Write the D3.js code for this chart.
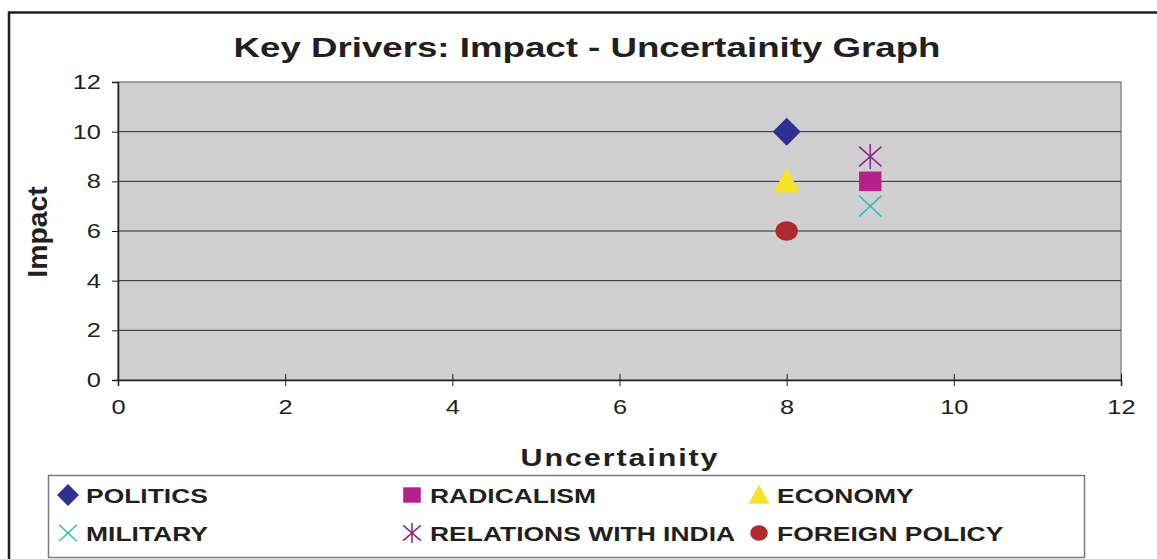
<!DOCTYPE html>
<html>
<head>
<meta charset="utf-8">
<script src="https://cdn.jsdelivr.net/npm/d3@7"></script>
<style>
  body { margin: 0; background: #fff; }
  text { font-family: "Liberation Sans", Arial, sans-serif; fill: #231f20; }
</style>
</head>
<body>
<svg id="chart" width="1157" height="559"></svg>
<script>
const seriesNames = ["POLITICS", "RADICALISM", "ECONOMY", "MILITARY", "RELATIONS WITH INDIA", "FOREIGN POLICY"];
const uncertainty = [8, 9, 8, 9, 9, 8];
const impact = [10, 8, 8, 7, 9, 6];
const colors = ["#2e3192", "#b5218c", "#f7e325", "#33bfbf", "#92278f", "#ad2a2e"];
const shapes = ["diamond", "square", "triangle", "cross", "star", "circle"];
const ticks = [0, 2, 4, 6, 8, 10, 12];

const svg = d3.select("#chart");
const sx = 1.27; // the original glyphs are wide

// outer chart frame (runs off right/bottom edge)
svg.append("path")
  .attr("d", "M9,1000 V12.5 H1200")
  .attr("fill", "none").attr("stroke", "#231f20").attr("stroke-width", 2.5);

const x = d3.scaleLinear().domain([0, 12]).range([118, 1121]);
const y = d3.scaleLinear().domain([0, 12]).range([380, 82]);

// plot area
svg.append("rect")
  .attr("x", x(0)).attr("y", y(12))
  .attr("width", x(12) - x(0)).attr("height", y(0) - y(12))
  .attr("fill", "#d0d0d0").attr("stroke", "#8a8a8a").attr("stroke-width", 1.5);

// gridlines
svg.append("g").selectAll("line")
  .data(ticks.filter(t => t > 0 && t < 12))
  .join("line")
  .attr("x1", x(0)).attr("x2", x(12))
  .attr("y1", d => y(d)).attr("y2", d => y(d))
  .attr("stroke", "#2a2a2a").attr("stroke-width", 1);

// axes
const yAxis = svg.append("g")
  .attr("transform", `translate(${x(0)},0)`)
  .call(d3.axisLeft(y).tickValues(ticks).tickSize(6));
const xAxis = svg.append("g")
  .attr("transform", `translate(0,${y(0)})`)
  .call(d3.axisBottom(x).tickValues(ticks).tickSize(6).tickPadding(14));
[xAxis, yAxis].forEach(a => {
  a.select(".domain").attr("stroke", "#231f20").attr("stroke-width", 1.5);
  a.selectAll(".tick line").attr("stroke", "#231f20");
  a.selectAll(".tick text")
    .attr("font-size", 20).attr("fill", "#231f20")
    .attr("font-family", "Liberation Sans, Arial, sans-serif");
});
xAxis.selectAll(".tick line").attr("y1", -6).attr("y2", 6);
xAxis.selectAll(".tick text").attr("transform", `scale(${sx},1)`);
yAxis.selectAll(".tick text").attr("x", 0).attr("transform", `translate(-17,0) scale(${sx},1)`);

// titles
svg.append("text")
  .attr("transform", `translate(587,57) scale(1.31,1)`).attr("text-anchor", "middle")
  .attr("font-size", 28).attr("font-weight", "bold")
  .text("Key Drivers: Impact - Uncertainity Graph");
svg.append("text")
  .attr("transform", `translate(620,466) scale(${sx},1)`).attr("text-anchor", "middle")
  .attr("font-size", 24).attr("font-weight", "bold").attr("letter-spacing", 1.5)
  .text("Uncertainity");
svg.append("text")
  .attr("transform", "translate(47,232) rotate(-90) scale(1.05,1)")
  .attr("text-anchor", "middle")
  .attr("font-size", 27).attr("font-weight", "bold")
  .text("Impact");

function marker(g, shape, color, s) {
  if (shape === "diamond") {
    g.append("path").attr("d", `M0,${-s} L${s},0 L0,${s} L${-s},0Z`).attr("fill", color);
  } else if (shape === "square") {
    g.append("rect").attr("x", -s * 0.8).attr("y", -s * 0.7).attr("width", s * 1.6).attr("height", s * 1.4).attr("fill", color);
  } else if (shape === "triangle") {
    g.append("path").attr("d", `M0,${-s * 0.95} L${s * 0.95},${s * 0.8} L${-s * 0.95},${s * 0.8}Z`).attr("fill", color);
  } else if (shape === "cross") {
    g.append("path").attr("d", `M${-s * 0.8},${-s * 0.75} L${s * 0.8},${s * 0.75} M${s * 0.8},${-s * 0.75} L${-s * 0.8},${s * 0.75}`)
      .attr("stroke", color).attr("stroke-width", 1.6).attr("fill", "none");
  } else if (shape === "star") {
    g.append("path").attr("d", `M${-s * 0.8},${-s * 0.7} L${s * 0.8},${s * 0.7} M${s * 0.8},${-s * 0.7} L${-s * 0.8},${s * 0.7} M0,${-s * 0.9} L0,${s * 0.9}`)
      .attr("stroke", color).attr("stroke-width", 1.6).attr("fill", "none");
  } else {
    g.append("ellipse").attr("rx", s * 0.8).attr("ry", s * 0.7).attr("fill", color);
  }
}

// points
seriesNames.forEach((name, i) => {
  const g = svg.append("g").attr("transform", `translate(${x(uncertainty[i])},${y(impact[i])})`);
  marker(g, shapes[i], colors[i], 14);
});

// legend
svg.append("rect")
  .attr("x", 48.5).attr("y", 475.5).attr("width", 1036).attr("height", 82)
  .attr("fill", "#fff").attr("stroke", "#7a7a7a").attr("stroke-width", 1.5);
const legCols = [68, 412, 759];
const legRows = [495, 533];
seriesNames.forEach((name, i) => {
  const cx = legCols[i % 3], cy = legRows[Math.floor(i / 3)];
  const g = svg.append("g").attr("transform", `translate(${cx},${cy})`);
  marker(g, shapes[i], colors[i], 11);
  svg.append("text")
    .attr("transform", `translate(${cx + 18},${cy + 8}) scale(1.26,1)`)
    .attr("font-size", 21).attr("font-weight", "bold")
    .text(name);
});
</script>
</body>
</html>
